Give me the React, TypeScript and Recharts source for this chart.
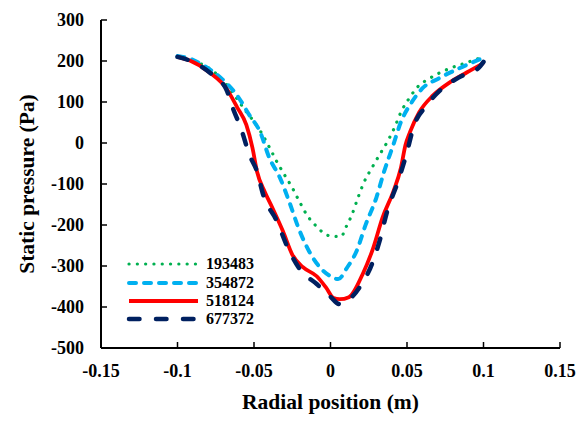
import { LineChart, Line, XAxis, YAxis, Label } from "recharts";

const xTicks = [-0.15, -0.1, -0.05, 0, 0.05, 0.1, 0.15];
const yTicks = [-500, -400, -300, -200, -100, 0, 100, 200, 300];

// Radial position (m) / static pressure (Pa) per case
const x193483 = [-0.1, -0.09, -0.08, -0.07, -0.06, -0.055, -0.05, -0.045, -0.04, -0.035, -0.03, -0.025, -0.02, -0.015, -0.01, -0.005, 0, 0.007, 0.01, 0.014, 0.018, 0.022, 0.027, 0.032, 0.037, 0.042, 0.046, 0.052, 0.056, 0.065, 0.078, 0.089, 0.1];
const p193483 = [210, 200, 184, 152, 102, 76, 52, 24, -10, -46, -78, -109, -145, -178, -200, -218, -227, -228, -206, -175, -133, -95, -61, -29, 2, 39, 75, 112, 133, 158, 182, 196, 210];

const x354872 = [-0.1, -0.09, -0.083, -0.072, -0.061, -0.053, -0.046, -0.04, -0.033, -0.027, -0.02, -0.014, -0.007, 0, 0.005, 0.011, 0.017, 0.023, 0.03, 0.035, 0.041, 0.046, 0.053, 0.06, 0.071, 0.084, 0.1];
const p354872 = [212, 203, 189, 160, 116, 68, 27, -36, -85, -143, -216, -264, -303, -325, -332, -303, -264, -199, -133, -70, -5, 51, 99, 133, 158, 182, 208];

const x518124 = [-0.1, -0.092, -0.079, -0.068, -0.061, -0.055, -0.051, -0.048, -0.043, -0.038, -0.031, -0.025, -0.018, -0.009, -0.003, 0.002, 0.006, 0.012, 0.021, 0.028, 0.034, 0.041, 0.046, 0.049, 0.052, 0.058, 0.067, 0.078, 0.089, 0.1];
const p518124 = [210, 201, 172, 133, 87, 44, -12, -70, -119, -158, -216, -272, -303, -325, -352, -378, -381, -376, -320, -255, -182, -119, -61, -5, 27, 75, 116, 148, 172, 195];

const x677372 = [-0.1, -0.092, -0.079, -0.068, -0.064, -0.058, -0.053, -0.048, -0.044, -0.035, -0.028, -0.02, -0.009, 0, 0.006, 0.011, 0.019, 0.027, 0.032, 0.037, 0.044, 0.05, 0.054, 0.063, 0.073, 0.084, 0.097, 0.1];
const p677372 = [210, 201, 172, 130, 87, 30, -29, -70, -126, -191, -255, -308, -344, -375, -393, -385, -352, -296, -240, -167, -95, -22, 36, 92, 133, 160, 184, 198];

const toPoints = (xs: number[], ps: number[]) => xs.map((x, i) => ({ x, p: ps[i] }));

const series = [
  { name: "193483", data: toPoints(x193483, p193483), color: "#00B050", width: 3.2, dash: "0.1 8.2" },
  { name: "354872", data: toPoints(x354872, p354872), color: "#00B0F0", width: 4, dash: "7 8" },
  { name: "518124", data: toPoints(x518124, p518124), color: "#FF0000", width: 3.8, dash: undefined },
  { name: "677372", data: toPoints(x677372, p677372), color: "#002060", width: 4.5, dash: "10.5 16.5" },
];

const font = "'Liberation Serif', 'Times New Roman', serif";
const tickStyle = { fontFamily: font, fontWeight: 700, fontSize: 18, fill: "#000" };
const titleStyle = { fontFamily: font, fontWeight: 700, fontSize: 21.5, fill: "#000" };

function LegendBox() {
  return (
    <div style={{ position: "absolute", left: 126, top: 255, fontFamily: font, fontWeight: 700, fontSize: 16, color: "#000" }}>
      {series.map((s) => (
        <div key={s.name} style={{ display: "flex", alignItems: "center", height: 18.4, whiteSpace: "nowrap" }}>
          <svg width={74} height={10} style={{ marginRight: 6, flexShrink: 0 }}>
            <line x1={3} y1={5} x2={72} y2={5} stroke={s.color} strokeWidth={s.width}
              strokeDasharray={s.dash} strokeLinecap={s.dash ? "round" : "butt"} />
          </svg>
          <span style={{ lineHeight: "18px" }}>{s.name}</span>
        </div>
      ))}
    </div>
  );
}

export default function App() {
  return (
    <div style={{ position: "absolute", left: 0, top: 0, width: 585, height: 426 }}>
      <LineChart width={585} height={426} margin={{ top: 20, right: 25, bottom: 0, left: 0 }}>
        <XAxis
          dataKey="x" type="number" domain={[-0.15, 0.15]} ticks={xTicks} allowDataOverflow
          tick={tickStyle} tickSize={-6} tickMargin={22} height={78}
          axisLine={{ stroke: "#000", strokeWidth: 2 }} tickLine={{ stroke: "#000", strokeWidth: 1.5 }}
        >
          <Label value="Radial position (m)" position="insideBottom" offset={17} style={titleStyle} />
        </XAxis>
        <XAxis xAxisId="top" orientation="top" type="number" domain={[-0.15, 0.15]} height={0}
          tick={false} tickLine={false} axisLine={{ stroke: "#000", strokeWidth: 2 }} />
        <YAxis
          type="number" domain={[-500, 300]} ticks={yTicks} allowDataOverflow
          tick={tickStyle} tickSize={-6} tickMargin={23} width={101}
          axisLine={{ stroke: "#000", strokeWidth: 2 }} tickLine={{ stroke: "#000", strokeWidth: 1.5 }}
        >
          <Label value="Static pressure (Pa)" angle={-90} position="insideLeft" offset={26}
            style={{ ...titleStyle, textAnchor: "middle" }} />
        </YAxis>
        <YAxis yAxisId="right" orientation="right" type="number" domain={[-500, 300]} width={0}
          tick={false} tickLine={false} axisLine={{ stroke: "#000", strokeWidth: 2 }} />
        {series.map((s) => (
          <Line key={s.name} data={s.data} dataKey="p" name={s.name} type="monotone"
            stroke={s.color} strokeWidth={s.width} strokeDasharray={s.dash}
            strokeLinecap={s.dash ? "round" : "butt"} dot={false} isAnimationActive={false} />
        ))}
      </LineChart>
      <LegendBox />
    </div>
  );
}
